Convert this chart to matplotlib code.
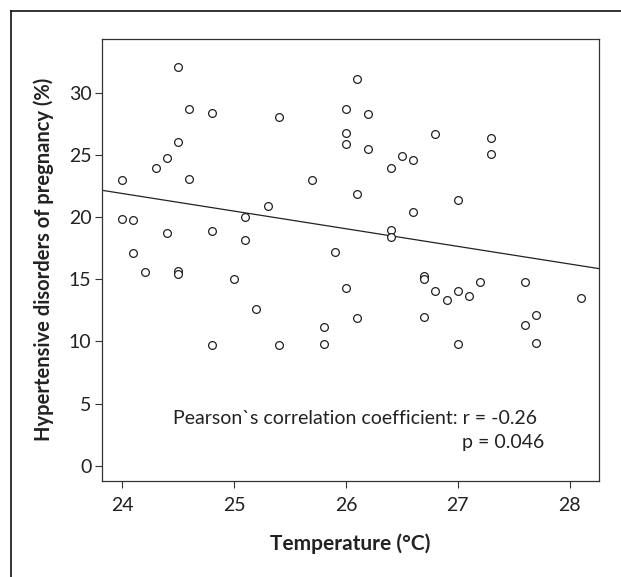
import numpy as np
import matplotlib
matplotlib.use("Agg")
import matplotlib.pyplot as plt
from matplotlib.lines import Line2D

temperature = [24.0, 24.0, 24.1, 24.1, 24.2, 24.3, 24.4, 24.4, 24.5, 24.5,
               24.5, 24.5, 24.6, 24.6, 24.8, 24.8, 24.8, 25.0, 25.1, 25.1,
               25.2, 25.3, 25.4, 25.4, 25.7, 25.8, 25.8, 25.9, 26.0, 26.0,
               26.0, 26.0, 26.1, 26.1, 26.1, 26.2, 26.2, 26.4, 26.4, 26.4,
               26.5, 26.6, 26.6, 26.7, 26.7, 26.7, 26.8, 26.8, 26.9, 27.0,
               27.0, 27.0, 27.1, 27.2, 27.3, 27.3, 27.6, 27.6, 27.7, 27.7,
               28.1]
hdp = [23.0, 19.9, 19.8, 17.1, 15.6, 24.0, 18.7, 24.8, 32.1, 26.1,
       15.7, 15.4, 28.7, 23.1, 28.4, 18.9, 9.7, 15.0, 20.0, 18.2,
       12.6, 20.9, 28.1, 9.7, 23.0, 11.2, 9.8, 17.2, 28.7, 26.8,
       25.9, 14.3, 31.1, 21.9, 11.9, 28.3, 25.5, 24.0, 19.0, 18.4,
       24.9, 24.6, 20.4, 15.3, 15.0, 12.0, 26.7, 14.1, 13.3, 21.4,
       14.1, 9.8, 13.7, 14.8, 26.4, 25.1, 14.8, 11.3, 12.1, 9.9,
       13.5]
x_ticks = [24, 25, 26, 27, 28]
y_ticks = [0, 5, 10, 15, 20, 25, 30]
annotation_lines = ["Pearson`s correlation coefficient: r = -0.26", "p = 0.046"]

plt.rcParams['font.family'] = ['Lato', 'DejaVu Sans']

fig = plt.figure(figsize=(6.21, 5.77), dpi=100)
# outer frame (left and top lines)
fig.add_artist(Line2D([11/621, 11/621], [0, 1 - 11/577], transform=fig.transFigure, color='#111', lw=1.2))
fig.add_artist(Line2D([11/621, 1], [1 - 11/577, 1 - 11/577], transform=fig.transFigure, color='#111', lw=1.2))

ax = fig.add_axes([102/621, (577-481)/577, 497/621, (481-38.5)/577])

x = np.array(temperature)
y = np.array(hdp)
ax.plot(x, y, linestyle='none', marker='o', markersize=5.6, markerfacecolor='white',
        markeredgecolor='#222', markeredgewidth=0.9, zorder=3)

xlim = (23.82, 28.262)
slope, intercept = np.polyfit(x, y, 1)
xl = np.array(xlim)
ax.plot(xl, slope * xl + intercept, color='#222', lw=0.9, zorder=2)

ax.set_xlim(*xlim)
ax.set_ylim(-1.24, 34.4)
ax.set_xticks(x_ticks)
ax.set_yticks(y_ticks)
ax.tick_params(direction='out', length=5, width=0.8, color='#333', labelsize=14,
               labelcolor='#222')
ax.tick_params(axis='x', pad=6.5)
ax.tick_params(axis='y', pad=2.5)
for s in ax.spines.values():
    s.set_color('#333')
    s.set_linewidth(0.9)

ax.set_xlabel('Temperature (\u00b0C)', fontsize=15, fontweight='bold', color='#222', labelpad=14)
ax.set_ylabel('Hypertensive disorders of pregnancy (%)', fontsize=14.5, fontweight='bold',
              color='#222', labelpad=11)

ax.text(27.706, 3.35, annotation_lines[0], ha='right', va='baseline', fontsize=14, color='#222')
ax.text(27.77, 1.45, annotation_lines[1], ha='right', va='baseline', fontsize=14, color='#222')

fig.savefig('out.png', dpi=100)
